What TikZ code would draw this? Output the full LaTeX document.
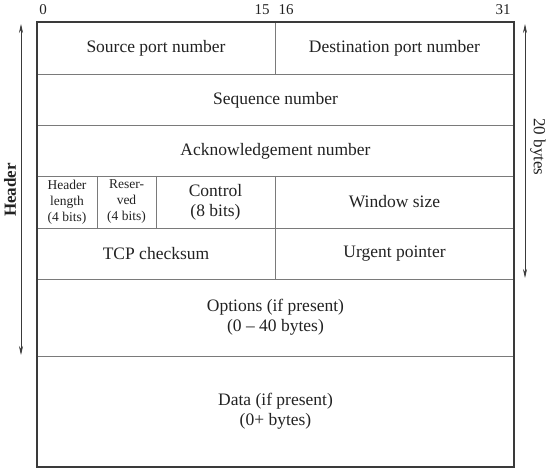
\documentclass[tikz,border=0pt]{standalone}
\usepackage{fontspec}
\setmainfont{Liberation Serif}
\usetikzlibrary{arrows.meta}
\definecolor{frameclr}{HTML}{3A3A3A}
\definecolor{ruleclr}{HTML}{7A7A7A}
\definecolor{txtclr}{HTML}{222222}
\tikzset{
  frame/.style={draw=frameclr,line width=1.6pt},
  rule/.style={draw=ruleclr,line width=0.9pt},
  field/.style={align=center,text=txtclr,font=\fontsize{17.5}{20}\selectfont,inner sep=0pt},
  smallfield/.style={align=center,text=txtclr,font=\fontsize{13.5}{16}\selectfont,inner sep=0pt},
  bitno/.style={text=txtclr,font=\fontsize{15}{17}\selectfont,inner sep=0pt},
  span/.style={draw=frameclr,line width=0.7pt,{Stealth[length=9pt,width=4pt]}-{Stealth[length=9pt,width=4pt]}},
}
\begin{document}
\begin{tikzpicture}[x=1pt,y=-1pt]
\useasboundingbox (0,0) rectangle (549,470);
% bit positions
\node[bitno] (b0)  at (43,10)  {0};
\node[bitno] (b15) at (262,10) {15};
\node[bitno] (b16) at (286,10) {16};
\node[bitno] (b31) at (503,10) {31};
% row and column rules
\draw[rule] (37,74) -- (514,74);
\draw[rule] (37,125) -- (514,125);
\draw[rule] (37,176) -- (514,176);
\draw[rule] (37,228) -- (514,228);
\draw[rule] (37,279) -- (514,279);
\draw[rule] (37,356) -- (514,356);
\draw[rule] (275,22) -- (275,74);
\draw[rule] (275,176) -- (275,279);
\draw[rule] (97,176) -- (97,228);
\draw[rule] (156,176) -- (156,228);
% outer frame
\draw[frame] (37,22) rectangle (514,467);
% field labels
\node[field] (src)  at (156,48)  {Source port number};
\node[field] (dst)  at (394.5,48) {Destination port number};
\node[field] (seq)  at (275.5,100) {Sequence number};
\node[field] (ack)  at (275.5,151) {Acknowledgement number};
\node[smallfield] (hlen) at (67,202) {Header\\length\\(4 bits)};
\node[smallfield] (resv) at (126.5,202) {Reser-\\ved\\(4 bits)};
\node[field] (ctrl) at (215.5,202) {Control\\(8 bits)};
\node[field] (win)  at (394.5,202) {Window size};
\node[field] (chk)  at (156,254) {TCP checksum};
\node[field] (urg)  at (394.5,254) {Urgent pointer};
\node[field] (opt)  at (275.5,317) {Options (if present)\\(0 -- 40 bytes)};
\node[field] (data) at (275.5,411) {Data (if present)\\(0+ bytes)};
% extent markers
\coordinate (htop) at (21,24);
\coordinate (hbot) at (21,355);
\coordinate (btop) at (525,24);
\coordinate (bbot) at (525,278);
\draw[span] (htop) -- (hbot);
\draw[span] (btop) -- (bbot);
\node[field,font=\fontsize{17}{19}\selectfont\bfseries,rotate=90] (hdr) at (10,190) {Header};
\node[field,font=\fontsize{17}{19}\selectfont,rotate=-90] (twenty) at (538,147) {20 bytes};
\end{tikzpicture}
\end{document}
